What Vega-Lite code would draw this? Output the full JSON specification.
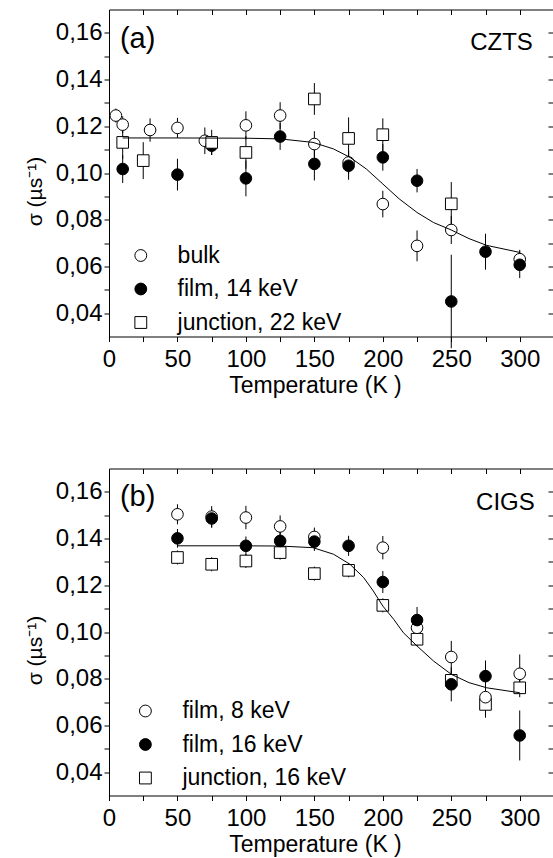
{
  "$schema": "https://vega.github.io/schema/vega-lite/v6.json",
  "padding": {"left": 24, "top": 8.5, "right": 0, "bottom": 0},
  "bounds": "flush",
  "spacing": 132,
  "datasets": {
    "pa": [
      {"series": "bulk", "T": 5, "s": 0.1246, "e": 0.003},
      {"series": "bulk", "T": 10, "s": 0.1207, "e": 0.0036},
      {"series": "bulk", "T": 30, "s": 0.1184, "e": 0.005},
      {"series": "bulk", "T": 50, "s": 0.1193, "e": 0.0043},
      {"series": "bulk", "T": 70, "s": 0.1138, "e": 0.0057},
      {"series": "bulk", "T": 100, "s": 0.1204, "e": 0.006},
      {"series": "bulk", "T": 125, "s": 0.1246, "e": 0.0057},
      {"series": "bulk", "T": 150, "s": 0.1124, "e": 0.0055},
      {"series": "bulk", "T": 175, "s": 0.1045, "e": 0.005},
      {"series": "bulk", "T": 200, "s": 0.0867, "e": 0.0057},
      {"series": "bulk", "T": 225, "s": 0.0688, "e": 0.0066},
      {"series": "bulk", "T": 250, "s": 0.0756, "e": 0.006},
      {"series": "bulk", "T": 300, "s": 0.0631, "e": 0.004},
      {"series": "film, 14 keV", "T": 10, "s": 0.1017, "e": 0.006},
      {"series": "film, 14 keV", "T": 50, "s": 0.0993, "e": 0.0068},
      {"series": "film, 14 keV", "T": 75, "s": 0.1117, "e": 0.004},
      {"series": "film, 14 keV", "T": 100, "s": 0.0977, "e": 0.0077},
      {"series": "film, 14 keV", "T": 125, "s": 0.1156, "e": 0.0057},
      {"series": "film, 14 keV", "T": 150, "s": 0.1039, "e": 0.0071},
      {"series": "film, 14 keV", "T": 175, "s": 0.1031, "e": 0.006},
      {"series": "film, 14 keV", "T": 200, "s": 0.1067, "e": 0.0057},
      {"series": "film, 14 keV", "T": 225, "s": 0.0967, "e": 0.005},
      {"series": "film, 14 keV", "T": 250, "s": 0.045, "e": 0.02},
      {"series": "film, 14 keV", "T": 275, "s": 0.0663, "e": 0.0077},
      {"series": "film, 14 keV", "T": 300, "s": 0.0607, "e": 0.0057},
      {"series": "junction, 22 keV", "T": 10, "s": 0.1131, "e": 0.007},
      {"series": "junction, 22 keV", "T": 25, "s": 0.1053, "e": 0.0079},
      {"series": "junction, 22 keV", "T": 75, "s": 0.1131, "e": 0.0054},
      {"series": "junction, 22 keV", "T": 100, "s": 0.1088, "e": 0.007},
      {"series": "junction, 22 keV", "T": 150, "s": 0.1317, "e": 0.0068},
      {"series": "junction, 22 keV", "T": 175, "s": 0.1148, "e": 0.009},
      {"series": "junction, 22 keV", "T": 200, "s": 0.1164, "e": 0.007},
      {"series": "junction, 22 keV", "T": 250, "s": 0.0868, "e": 0.0093}
    ],
    "fa": [
      {"T": 10, "s": 0.115}, {"T": 50, "s": 0.115}, {"T": 100, "s": 0.1149},
      {"T": 125, "s": 0.1146}, {"T": 149, "s": 0.1131}, {"T": 164, "s": 0.1103},
      {"T": 176, "s": 0.1067}, {"T": 188, "s": 0.1017}, {"T": 200, "s": 0.0953},
      {"T": 212, "s": 0.0889}, {"T": 225, "s": 0.0831}, {"T": 237, "s": 0.0788},
      {"T": 250, "s": 0.0756}, {"T": 263, "s": 0.0719}, {"T": 276, "s": 0.069},
      {"T": 300, "s": 0.066}
    ],
    "pb": [
      {"series": "junction, 16 keV", "T": 50, "s": 0.1319, "e": 0.003},
      {"series": "junction, 16 keV", "T": 75, "s": 0.129, "e": 0.003},
      {"series": "junction, 16 keV", "T": 100, "s": 0.1304, "e": 0.003},
      {"series": "junction, 16 keV", "T": 125, "s": 0.134, "e": 0.003},
      {"series": "junction, 16 keV", "T": 150, "s": 0.125, "e": 0.003},
      {"series": "junction, 16 keV", "T": 175, "s": 0.1264, "e": 0.003},
      {"series": "junction, 16 keV", "T": 200, "s": 0.1114, "e": 0.003},
      {"series": "junction, 16 keV", "T": 225, "s": 0.0969, "e": 0.003},
      {"series": "junction, 16 keV", "T": 250, "s": 0.0793, "e": 0.004},
      {"series": "junction, 16 keV", "T": 275, "s": 0.069, "e": 0.0057},
      {"series": "junction, 16 keV", "T": 300, "s": 0.0761, "e": 0.004},
      {"series": "film, 8 keV", "T": 50, "s": 0.1504, "e": 0.0043},
      {"series": "film, 8 keV", "T": 75, "s": 0.1494, "e": 0.0045},
      {"series": "film, 8 keV", "T": 100, "s": 0.149, "e": 0.005},
      {"series": "film, 8 keV", "T": 125, "s": 0.1452, "e": 0.0047},
      {"series": "film, 8 keV", "T": 150, "s": 0.1407, "e": 0.004},
      {"series": "film, 8 keV", "T": 200, "s": 0.1361, "e": 0.005},
      {"series": "film, 8 keV", "T": 225, "s": 0.1018, "e": 0.005},
      {"series": "film, 8 keV", "T": 250, "s": 0.0893, "e": 0.0069},
      {"series": "film, 8 keV", "T": 275, "s": 0.0721, "e": 0.005},
      {"series": "film, 8 keV", "T": 300, "s": 0.0821, "e": 0.0083},
      {"series": "film, 16 keV", "T": 50, "s": 0.1401, "e": 0.004},
      {"series": "film, 16 keV", "T": 75, "s": 0.1486, "e": 0.004},
      {"series": "film, 16 keV", "T": 100, "s": 0.1369, "e": 0.004},
      {"series": "film, 16 keV", "T": 125, "s": 0.139, "e": 0.004},
      {"series": "film, 16 keV", "T": 150, "s": 0.1387, "e": 0.004},
      {"series": "film, 16 keV", "T": 175, "s": 0.1369, "e": 0.0043},
      {"series": "film, 16 keV", "T": 200, "s": 0.1214, "e": 0.0047},
      {"series": "film, 16 keV", "T": 225, "s": 0.1051, "e": 0.0056},
      {"series": "film, 16 keV", "T": 250, "s": 0.0776, "e": 0.0073},
      {"series": "film, 16 keV", "T": 275, "s": 0.0811, "e": 0.0067},
      {"series": "film, 16 keV", "T": 300, "s": 0.0557, "e": 0.0107}
    ],
    "fb": [
      {"T": 50, "s": 0.1369}, {"T": 100, "s": 0.1369}, {"T": 125, "s": 0.1368},
      {"T": 149, "s": 0.1361}, {"T": 164, "s": 0.1333}, {"T": 176, "s": 0.129},
      {"T": 186, "s": 0.1233}, {"T": 193, "s": 0.1176}, {"T": 200, "s": 0.1111},
      {"T": 208, "s": 0.1054}, {"T": 215, "s": 0.0997}, {"T": 225, "s": 0.094},
      {"T": 237, "s": 0.0876}, {"T": 250, "s": 0.0819}, {"T": 263, "s": 0.0783},
      {"T": 276, "s": 0.0761}, {"T": 300, "s": 0.074}
    ]
  },
  "vconcat": [
    {
      "width": 444,
      "height": 327,
      "layer": [
        {
          "data": {"name": "pa"},
          "mark": {"type": "errorbar", "color": "black", "thickness": 1},
          "encoding": {
            "x": {"field": "T", "type": "quantitative", "scale": {"domain": [0, 324.3], "nice": false, "zero": false},
              "axis": {"orient": "bottom", "values": [0, 25, 50, 75, 100, 125, 150, 175, 200, 225, 250, 275, 300], "labelExpr": "datum.value % 50 == 0 ? datum.label : ''", "title": "Temperature (K )", "titleX": 206}},
            "y": {"field": "s", "type": "quantitative", "scale": {"domain": [0.03, 0.17], "nice": false, "zero": false},
              "axis": {"orient": "left", "values": [0.04, 0.05, 0.06, 0.07, 0.08, 0.09, 0.1, 0.11, 0.12, 0.13, 0.14, 0.15, 0.16], "labelExpr": "round(datum.value*100) % 2 == 0 ? replace(format(datum.value, '.2f'), '.', ',') : ''", "title": "σ (µs⁻¹)", "titleY": 181.5}},
            "yError": {"field": "e"}
          }
        },
        {
          "data": {"name": "pa"},
          "mark": {"type": "point", "filled": true, "strokeWidth": 1, "size": 135, "opacity": 1},
          "encoding": {
            "x": {"field": "T", "type": "quantitative", "scale": {"domain": [0, 324.3], "nice": false, "zero": false},
              "axis": {"orient": "top", "values": [0, 25, 50, 75, 100, 125, 150, 175, 200, 225, 250, 275, 300], "labels": false, "tickSize": -5, "title": null}},
            "y": {"field": "s", "type": "quantitative", "scale": {"domain": [0.03, 0.17], "nice": false, "zero": false},
              "axis": {"orient": "right", "values": [0.04, 0.05, 0.06, 0.07, 0.08, 0.09, 0.1, 0.11, 0.12, 0.13, 0.14, 0.15, 0.16], "labels": false, "tickSize": -5, "title": null, "domain": false}},
            "shape": {"field": "series", "type": "nominal", "scale": {"domain": ["bulk", "film, 14 keV", "junction, 22 keV"], "range": ["circle", "circle", "square"]},
              "legend": {"title": null, "orient": "none", "legendX": 20.3, "legendY": 234.5, "symbolSize": 140, "symbolStrokeWidth": 1, "labelFontSize": 23, "labelFont": "Liberation Sans", "labelColor": "black", "labelOffset": 25.3, "labelLimit": 400, "rowPadding": 9.5, "padding": 0}},
            "fill": {"field": "series", "type": "nominal", "scale": {"domain": ["bulk", "film, 14 keV", "junction, 22 keV"], "range": ["white", "black", "white"]},
              "legend": {"title": null, "orient": "none", "legendX": 20.3, "legendY": 234.5, "symbolSize": 140, "symbolStrokeWidth": 1, "labelFontSize": 23, "labelFont": "Liberation Sans", "labelColor": "black", "labelOffset": 25.3, "labelLimit": 400, "rowPadding": 9.5, "padding": 0}},
            "stroke": {"field": "series", "type": "nominal", "scale": {"domain": ["bulk", "film, 14 keV", "junction, 22 keV"], "range": ["black", "black", "black"]},
              "legend": {"title": null, "orient": "none", "legendX": 20.3, "legendY": 234.5, "symbolSize": 140, "symbolStrokeWidth": 1, "labelFontSize": 23, "labelFont": "Liberation Sans", "labelColor": "black", "labelOffset": 25.3, "labelLimit": 400, "rowPadding": 9.5, "padding": 0}}
          }
        },
        {
          "data": {"name": "fa"},
          "mark": {"type": "line", "color": "black", "strokeWidth": 1},
          "encoding": {
            "x": {"field": "T", "type": "quantitative", "scale": {"domain": [0, 324.3], "nice": false, "zero": false}, "axis": null},
            "y": {"field": "s", "type": "quantitative", "scale": {"domain": [0.03, 0.17], "nice": false, "zero": false}, "axis": null}
          }
        },
        {
          "data": {"values": [{"t": "(a)", "T": 8, "s": 0.1575}]},
          "mark": {"type": "text", "align": "left", "baseline": "middle", "fontSize": 29, "font": "Liberation Sans", "color": "black"},
          "encoding": {
            "x": {"field": "T", "type": "quantitative", "scale": {"domain": [0, 324.3], "nice": false, "zero": false}, "axis": null},
            "y": {"field": "s", "type": "quantitative", "scale": {"domain": [0.03, 0.17], "nice": false, "zero": false}, "axis": null},
            "text": {"field": "t"}
          }
        },
        {
          "data": {"values": [{"t": "CZTS", "T": 309.6, "s": 0.1557}]},
          "mark": {"type": "text", "align": "right", "baseline": "middle", "fontSize": 24, "font": "Liberation Sans", "color": "black"},
          "encoding": {
            "x": {"field": "T", "type": "quantitative", "scale": {"domain": [0, 324.3], "nice": false, "zero": false}, "axis": null},
            "y": {"field": "s", "type": "quantitative", "scale": {"domain": [0.03, 0.17], "nice": false, "zero": false}, "axis": null},
            "text": {"field": "t"}
          }
        }
      ],
      "resolve": {"axis": {"x": "independent", "y": "independent"}}
    },
    {
      "width": 444,
      "height": 327,
      "layer": [
        {
          "data": {"name": "pb"},
          "mark": {"type": "errorbar", "color": "black", "thickness": 1},
          "encoding": {
            "x": {"field": "T", "type": "quantitative", "scale": {"domain": [0, 324.3], "nice": false, "zero": false},
              "axis": {"orient": "bottom", "values": [0, 25, 50, 75, 100, 125, 150, 175, 200, 225, 250, 275, 300], "labelExpr": "datum.value % 50 == 0 ? datum.label : ''", "title": "Temperature (K )", "titleX": 206}},
            "y": {"field": "s", "type": "quantitative", "scale": {"domain": [0.03, 0.17], "nice": false, "zero": false},
              "axis": {"orient": "left", "values": [0.04, 0.05, 0.06, 0.07, 0.08, 0.09, 0.1, 0.11, 0.12, 0.13, 0.14, 0.15, 0.16], "labelExpr": "round(datum.value*100) % 2 == 0 ? replace(format(datum.value, '.2f'), '.', ',') : ''", "title": "σ (µs⁻¹)", "titleY": 181.5}},
            "yError": {"field": "e"}
          }
        },
        {
          "data": {"name": "pb"},
          "mark": {"type": "point", "filled": true, "strokeWidth": 1, "size": 135, "opacity": 1},
          "encoding": {
            "x": {"field": "T", "type": "quantitative", "scale": {"domain": [0, 324.3], "nice": false, "zero": false},
              "axis": {"orient": "top", "values": [0, 25, 50, 75, 100, 125, 150, 175, 200, 225, 250, 275, 300], "labels": false, "tickSize": -5, "title": null}},
            "y": {"field": "s", "type": "quantitative", "scale": {"domain": [0.03, 0.17], "nice": false, "zero": false},
              "axis": {"orient": "right", "values": [0.04, 0.05, 0.06, 0.07, 0.08, 0.09, 0.1, 0.11, 0.12, 0.13, 0.14, 0.15, 0.16], "labels": false, "tickSize": -5, "title": null, "domain": false}},
            "shape": {"field": "series", "type": "nominal", "scale": {"domain": ["film, 8 keV", "film, 16 keV", "junction, 16 keV"], "range": ["circle", "circle", "square"]},
              "legend": {"title": null, "orient": "none", "legendX": 24.9, "legendY": 231, "symbolSize": 140, "symbolStrokeWidth": 1, "labelFontSize": 23, "labelFont": "Liberation Sans", "labelColor": "black", "labelOffset": 25.5, "labelLimit": 400, "rowPadding": 9.5, "padding": 0}},
            "fill": {"field": "series", "type": "nominal", "scale": {"domain": ["film, 8 keV", "film, 16 keV", "junction, 16 keV"], "range": ["white", "black", "white"]},
              "legend": {"title": null, "orient": "none", "legendX": 24.9, "legendY": 231, "symbolSize": 140, "symbolStrokeWidth": 1, "labelFontSize": 23, "labelFont": "Liberation Sans", "labelColor": "black", "labelOffset": 25.5, "labelLimit": 400, "rowPadding": 9.5, "padding": 0}},
            "stroke": {"field": "series", "type": "nominal", "scale": {"domain": ["film, 8 keV", "film, 16 keV", "junction, 16 keV"], "range": ["black", "black", "black"]},
              "legend": {"title": null, "orient": "none", "legendX": 24.9, "legendY": 231, "symbolSize": 140, "symbolStrokeWidth": 1, "labelFontSize": 23, "labelFont": "Liberation Sans", "labelColor": "black", "labelOffset": 25.5, "labelLimit": 400, "rowPadding": 9.5, "padding": 0}}
          }
        },
        {
          "data": {"name": "fb"},
          "mark": {"type": "line", "color": "black", "strokeWidth": 1},
          "encoding": {
            "x": {"field": "T", "type": "quantitative", "scale": {"domain": [0, 324.3], "nice": false, "zero": false}, "axis": null},
            "y": {"field": "s", "type": "quantitative", "scale": {"domain": [0.03, 0.17], "nice": false, "zero": false}, "axis": null}
          }
        },
        {
          "data": {"values": [{"t": "(b)", "T": 8, "s": 0.158}]},
          "mark": {"type": "text", "align": "left", "baseline": "middle", "fontSize": 29, "font": "Liberation Sans", "color": "black"},
          "encoding": {
            "x": {"field": "T", "type": "quantitative", "scale": {"domain": [0, 324.3], "nice": false, "zero": false}, "axis": null},
            "y": {"field": "s", "type": "quantitative", "scale": {"domain": [0.03, 0.17], "nice": false, "zero": false}, "axis": null},
            "text": {"field": "t"}
          }
        },
        {
          "data": {"values": [{"t": "CIGS", "T": 311, "s": 0.1551}]},
          "mark": {"type": "text", "align": "right", "baseline": "middle", "fontSize": 24, "font": "Liberation Sans", "color": "black"},
          "encoding": {
            "x": {"field": "T", "type": "quantitative", "scale": {"domain": [0, 324.3], "nice": false, "zero": false}, "axis": null},
            "y": {"field": "s", "type": "quantitative", "scale": {"domain": [0.03, 0.17], "nice": false, "zero": false}, "axis": null},
            "text": {"field": "t"}
          }
        }
      ],
      "resolve": {"axis": {"x": "independent", "y": "independent"}}
    }
  ],
  "resolve": {
    "scale": {"x": "independent", "y": "independent", "shape": "independent", "fill": "independent", "stroke": "independent"},
    "legend": {"shape": "independent", "fill": "independent", "stroke": "independent"}
  },
  "config": {
    "view": {"stroke": null},
    "axis": {
      "domainColor": "black", "tickColor": "black", "labelColor": "black", "titleColor": "black",
      "labelFont": "Liberation Sans", "titleFont": "Liberation Sans",
      "labelFontSize": 24, "titleFontSize": 23, "titleFontWeight": "normal",
      "grid": false, "tickSize": 5, "domainWidth": 1, "tickWidth": 1,
      "labelFlush": false, "labelOverlap": false
    },
    "axisBottom": {"labelPadding": 6, "titlePadding": 3},
    "axisLeft": {"labelPadding": 2, "titlePadding": 10, "titleFontSize": 21}
  }
}
